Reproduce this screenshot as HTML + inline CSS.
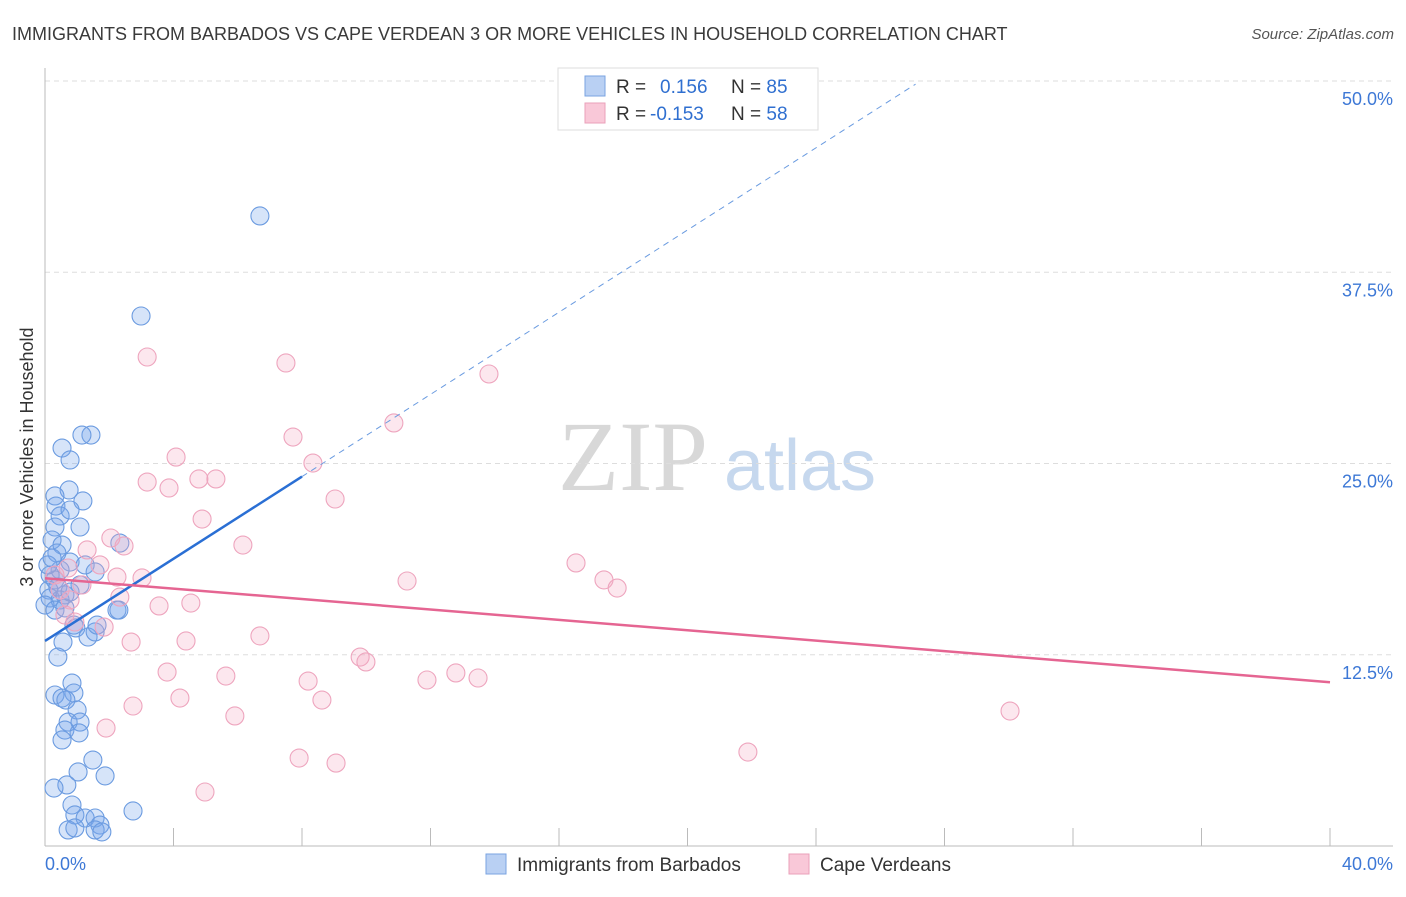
<!DOCTYPE html>
<html><head><meta charset="utf-8"><style>
body{margin:0;background:#fff;font-family:"Liberation Sans",sans-serif;}
svg text{font-family:"Liberation Sans",sans-serif;}
svg text.serif{font-family:"Liberation Serif",serif;}
</style></head><body>
<svg id="chart" width="1406" height="892">
<text x="12" y="40" font-size="18" fill="#3a3a3a">IMMIGRANTS FROM BARBADOS VS CAPE VERDEAN 3 OR MORE VEHICLES IN HOUSEHOLD CORRELATION CHART</text>
<text x="1394" y="39" font-size="15" fill="#555" text-anchor="end" font-style="italic">Source: ZipAtlas.com</text>
<text x="0" y="0" transform="translate(33,457) rotate(-90)" font-size="18" fill="#333" text-anchor="middle">3 or more Vehicles in Household</text>
<g><text class="serif" x="633" y="490" font-size="100" fill="#d8d8d8" text-anchor="middle">ZIP</text><text x="800" y="490" font-size="72" fill="#c6d8ee" text-anchor="middle">atlas</text></g>
<g id="grid"></g><g id="axes"></g><g id="pts"></g><g id="lines"></g>
<g>
<rect x="558" y="68" width="260" height="62" fill="#fff" stroke="#ddd"/>
<rect x="585" y="76" width="20" height="20" fill="#b9d0f3" stroke="#7aa3e0"/>
<rect x="585" y="103" width="20" height="20" fill="#f9c8d8" stroke="#eaa0ba"/>
<text x="616" y="93" font-size="19" fill="#333">R = <tspan fill="#2f6fd0" x="660">0.156</tspan><tspan fill="#333" x="731">N = </tspan><tspan fill="#2f6fd0">85</tspan></text>
<text x="616" y="120" font-size="19" fill="#333">R = <tspan fill="#2f6fd0" x="650">-0.153</tspan><tspan fill="#333" x="731">N = </tspan><tspan fill="#2f6fd0">58</tspan></text>
</g>
<g>
<rect x="486" y="854" width="20" height="20" fill="#b9d0f3" stroke="#7aa3e0"/>
<text x="517" y="871" font-size="19" fill="#333">Immigrants from Barbados</text>
<rect x="789" y="854" width="20" height="20" fill="#f9c8d8" stroke="#eaa0ba"/>
<text x="820" y="871" font-size="19" fill="#333">Cape Verdeans</text>
</g>
</svg>
<script>
const yTicks=[12.5,25,37.5,50];
const yTickLabels=["12.5%","25.0%","37.5%","50.0%"];
const xEndLabels=["0.0%","40.0%"];
const blueX=[6.69,2.99,1.43,1.15,0.53,0.78,0.75,1.18,0.31,0.34,0.47,0.78,1.09,0.31,0.22,0.53,0.37,0.78,1.25,0.47,0.31,0.12,0.16,0.47,0.62,1.09,1.56,2.33,2.24,0.90,0.96,1.34,1.56,1.62,0.56,0.40,0.31,0.84,0.90,0.53,0.65,1.0,0.72,1.09,0.62,1.06,0.53,1.49,1.87,1.03,0.68,0.28,0.84,0.93,1.25,1.56,1.71,0.72,0.93,1.56,1.77,2.74,0.16,0.09,0.22,0.0,0.31,0.62,0.40,0.78,2.30];
const blueY=[41.18,34.64,26.86,26.86,26.01,25.23,23.27,22.55,22.88,22.22,21.57,21.96,20.85,20.85,20.0,19.67,19.15,18.56,18.37,18.04,17.39,16.73,16.21,16.08,16.41,17.06,17.91,19.8,15.42,14.44,14.25,13.66,13.99,14.44,13.33,12.35,9.87,10.65,10.0,9.67,9.54,8.89,8.10,8.10,7.58,7.39,6.93,5.62,4.58,4.84,3.99,3.79,2.68,2.03,1.83,1.83,1.37,1.05,1.18,1.05,0.92,2.29,17.71,18.37,18.82,15.75,15.42,15.56,16.93,16.60,15.42];
const pinkX=[3.18,7.50,13.82,10.86,7.72,4.08,8.34,3.18,3.86,4.79,5.32,9.03,4.89,2.05,2.46,6.16,1.31,1.71,2.24,3.02,11.27,16.53,17.40,17.81,2.33,3.55,4.54,0.93,1.84,2.68,4.39,6.69,3.80,5.63,8.19,9.81,9.99,11.89,12.79,13.48,4.20,2.74,8.62,5.91,30.04,1.90,7.91,9.06,21.88,4.98,0.47,0.78,1.15,0.31,0.62,0.72];
const pinkY=[31.96,31.57,30.85,27.65,26.73,25.42,25.03,23.79,23.40,23.99,23.99,22.68,21.37,20.13,19.61,19.67,19.35,18.37,17.58,17.52,17.32,18.50,17.39,16.86,16.27,15.69,15.88,14.64,14.31,13.33,13.40,13.73,11.37,11.11,10.78,12.35,12.03,10.85,11.31,10.98,9.67,9.15,9.54,8.50,8.82,7.71,5.75,5.42,6.14,3.53,16.73,16.08,17.06,17.71,15.10,18.17];
const blueTrend=[13.4,1.343];
const pinkTrend=[17.5,-0.17];
const X0=45,X1=1330,Y0=846,YS=15.3;
const sx=v=>X0+(X1-X0)*v/40, sy=v=>Y0-v*YS;
const NS="http://www.w3.org/2000/svg";
function mk(tag,attrs,parent){const e=document.createElementNS(NS,tag);for(const k in attrs)e.setAttribute(k,attrs[k]);document.getElementById(parent).appendChild(e);return e;}
yTicks.forEach((t,i)=>{
 const g=mk('line',{x1:45,x2:1393,y1:sy(t),y2:sy(t),stroke:'#ddd','stroke-dasharray':'5,4'},'grid');
 
 
 const l=mk('text',{x:1393,y:sy(t)+24,'font-size':18,fill:'#3d78d6','text-anchor':'end'},'grid');
 l.textContent=yTickLabels[i];
 
 
});
const ya=mk('line',{x1:45,x2:45,y1:68,y2:846,stroke:'#bbb'},'axes');


const xa=mk('line',{x1:45,x2:1393,y1:846,y2:846,stroke:'#bbb'},'axes');


for(let i=1;i<=10;i++){const t=mk('line',{x1:sx(i*4),x2:sx(i*4),y1:828,y2:846,stroke:'#bbb'},'axes');
 
 }
[[0,'start',45],[40,'end',1393]].forEach((a,i)=>{const t=mk('text',{x:a[2],y:870,'font-size':18,fill:'#3d78d6','text-anchor':a[1]},'axes');t.textContent=xEndLabels[i];
 
 });
blueX.forEach((x,i)=>{const c=mk('circle',{cx:sx(x),cy:sy(blueY[i]),r:9,fill:'rgba(120,165,235,0.3)',stroke:'#6b9be0','stroke-width':1.1},'pts');
 
 });
pinkX.forEach((x,i)=>{const c=mk('circle',{cx:sx(x),cy:sy(pinkY[i]),r:9,fill:'rgba(245,170,195,0.28)',stroke:'#eea5be','stroke-width':1.1},'pts');
 
 });
const bt=x=>blueTrend[0]+blueTrend[1]*x, pt=x=>pinkTrend[0]+pinkTrend[1]*x;
const bl=mk('line',{x1:sx(0),y1:sy(bt(0)),x2:sx(8),y2:sy(bt(8)),stroke:'#2a6fd4','stroke-width':2.5},'lines');


const bd=mk('line',{x1:sx(8),y1:sy(bt(8)),x2:sx(27.1),y2:sy(bt(27.1)),stroke:'#6a9be0','stroke-width':1,'stroke-dasharray':'6,5'},'lines');


const pl=mk('line',{x1:sx(0),y1:sy(pt(0)),x2:sx(40),y2:sy(pt(40)),stroke:'#e56592','stroke-width':2.5},'lines');


</script>
</body></html>
